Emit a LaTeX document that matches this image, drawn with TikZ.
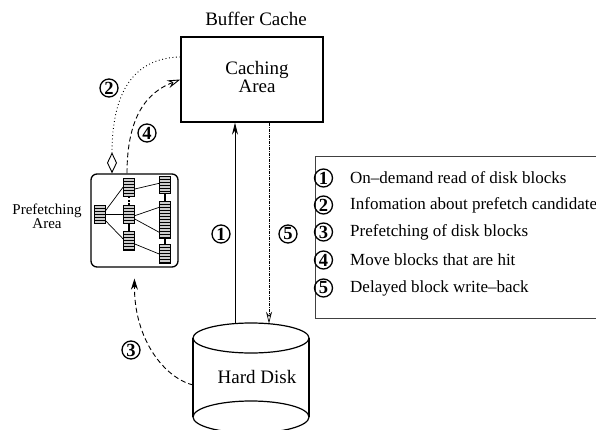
\documentclass[tikz,border=0pt]{standalone}
\usepackage{fontspec}
\setmainfont{Liberation Serif}
\usetikzlibrary{arrows.meta}
\begin{document}
\begin{tikzpicture}[x=1pt,y=-1pt,
  num/.style={circle,draw,line width=1.3pt,inner sep=0pt,minimum size=18pt,font=\fontsize{18.5}{18}\selectfont\bfseries},
  blk/.style={draw,line width=0.6pt,fill=gray!40,inner sep=0pt,minimum width=10.5pt,
    path picture={\foreach \k in {3,6,...,45}{\draw[line width=0.5pt] ([yshift=-\k pt]path picture bounding box.north west) -- ([yshift=-\k pt]path picture bounding box.north east);}}},
  edge/.style={line width=0.7pt},
  bigtext/.style={font=\fontsize{19}{18.5}\selectfont,align=center,inner sep=0pt},
  legtext/.style={anchor=west,font=\fontsize{17}{18}\selectfont,inner sep=0pt},
  boxline/.style={draw,line width=1.3pt},
]
\useasboundingbox (0,0) rectangle (596,430);
\clip (0,0) rectangle (596,430);

% Buffer cache
\node[bigtext] (bc) at (256,19) {Buffer Cache};
\node[boxline,minimum width=142pt,minimum height=85pt,inner sep=0pt] (cache) at (252,79.5) {};
\node[bigtext] (cachelabel) at (257,77) {Caching\\Area};

% Prefetching area
\node[boxline,rounded corners=6pt,minimum width=87pt,minimum height=93pt,inner sep=0pt] (pf) at (134.5,220.5) {};
\node[align=center,font=\fontsize{15}{13}\selectfont,inner sep=0pt] (pflabel) at (47,216) {Prefetching\\Area};

% blocks
\node[blk,minimum height=18pt] (L) at (100,214) {};
\node[blk,minimum width=11pt,minimum height=18pt] (M1) at (129,187) {};
\node[blk,minimum width=11pt,minimum height=18pt] (M2) at (129,214) {};
\node[blk,minimum width=11pt,minimum height=19pt] (M3) at (129,241) {};
\node[blk,minimum width=11pt,minimum height=17pt] (R1) at (165,185) {};
\node[blk,minimum width=11pt,minimum height=37pt] (R2) at (165,219.5) {};
\node[blk,minimum width=11pt,minimum height=19pt] (R3) at (165,254) {};
\draw[edge] ([yshift=3.3pt]L.east) -- (M1.west);
\draw[edge] ([yshift=-0.7pt]L.east) -- ([yshift=-0.7pt]M2.west);
\draw[edge] ([yshift=-6.7pt]L.east) -- ([yshift=2pt]M3.west);
\draw[edge] ([yshift=-2pt]M1.east) -- ([yshift=1.7pt]R1.west);
\draw[edge] ([yshift=-1.7pt]M2.east) -- ([yshift=12.2pt]R2.west);
\draw[edge] ([yshift=-5pt]M2.east) -- ([yshift=-12.8pt]R2.west);
\draw[edge] ([yshift=-3pt]M3.east) -- (R3.west);
\draw[line width=1.4pt,dash pattern=on 2pt off 1.5pt] (M1.south) -- (M2.north);
\draw[line width=1.2pt] (M2.south) -- (M3.north);
\draw[line width=1.2pt] (R1.south) -- (R2.north);
\draw[line width=1.2pt] (R2.south) -- (R3.north);

% Hard disk
\draw[line width=1.2pt] (251,338) ellipse [x radius=58pt, y radius=15pt];
\draw[line width=1.2pt] (193,338) -- (193,417);
\draw[line width=1.2pt] (309,338) -- (309,417);
\draw[line width=1.2pt] (251,417) ellipse [x radius=58pt, y radius=16pt];
\node[bigtext] (hd) at (257,377) {Hard Disk};
\coordinate (d1) at (235,323.6);
\coordinate (d5) at (269,323.7);
\coordinate (d3) at (193,385);

% connectors
\draw[line width=0.9pt,-{Stealth[length=12pt,width=6pt]}] (d1) -- (d1 |- cache.south);
\draw[line width=0.7pt,dash pattern=on 3pt off 1.2pt on 0.6pt off 1.2pt,-{Stealth[open,length=12pt,width=6pt]}] (d5 |- cache.south) -- (d5);
\draw[line width=0.9pt,dash pattern=on 0.9pt off 2.6pt,-{Diamond[open,length=21pt,width=10pt]}]
  ([yshift=22.5pt]cache.west) .. controls (135,58) and (112,90) .. ([xshift=-22.5pt]pf.north);
\draw[line width=0.9pt,dash pattern=on 5pt off 3pt,-{Stealth[open,length=13pt,width=8pt]}]
  ([xshift=-7.5pt]pf.north) .. controls (127,115) and (148,92) .. (cache.west);
\draw[line width=0.9pt,dash pattern=on 5pt off 3pt,-{Stealth[length=11pt,width=7pt]}]
  (d3) .. controls (165,378) and (134,340) .. ([yshift=-11pt]pf.south);

% numbers
\node[num] (n2) at (109,88) {2};
\node[num] (n4) at (147,133) {4};
\node[num] (n3) at (131,350) {3};
\node[num] (n1) at (221,234) {1};
\node[num] (n5) at (288,234) {5};

% legend
\node[draw=black!75,line width=1pt,anchor=north west,minimum width=300pt,minimum height=162pt,inner sep=0pt] (legend) at (315,156) {};
\node[num] (l1) at (323.5,178) {1};
\node[legtext] (t1) at (350,178) {On--demand read of disk blocks};
\node[num] (l2) at (323.5,205) {2};
\node[legtext] (t2) at (350,205) {Infomation about prefetch candidates};
\node[num] (l3) at (323.5,232) {3};
\node[legtext] (t3) at (350,232) {Prefetching of disk blocks};
\node[num] (l4) at (323.5,260) {4};
\node[legtext] (t4) at (350,260) {Move blocks that are hit};
\node[num] (l5) at (323.5,288) {5};
\node[legtext] (t5) at (350,288) {Delayed block write--back};
\end{tikzpicture}
\end{document}
